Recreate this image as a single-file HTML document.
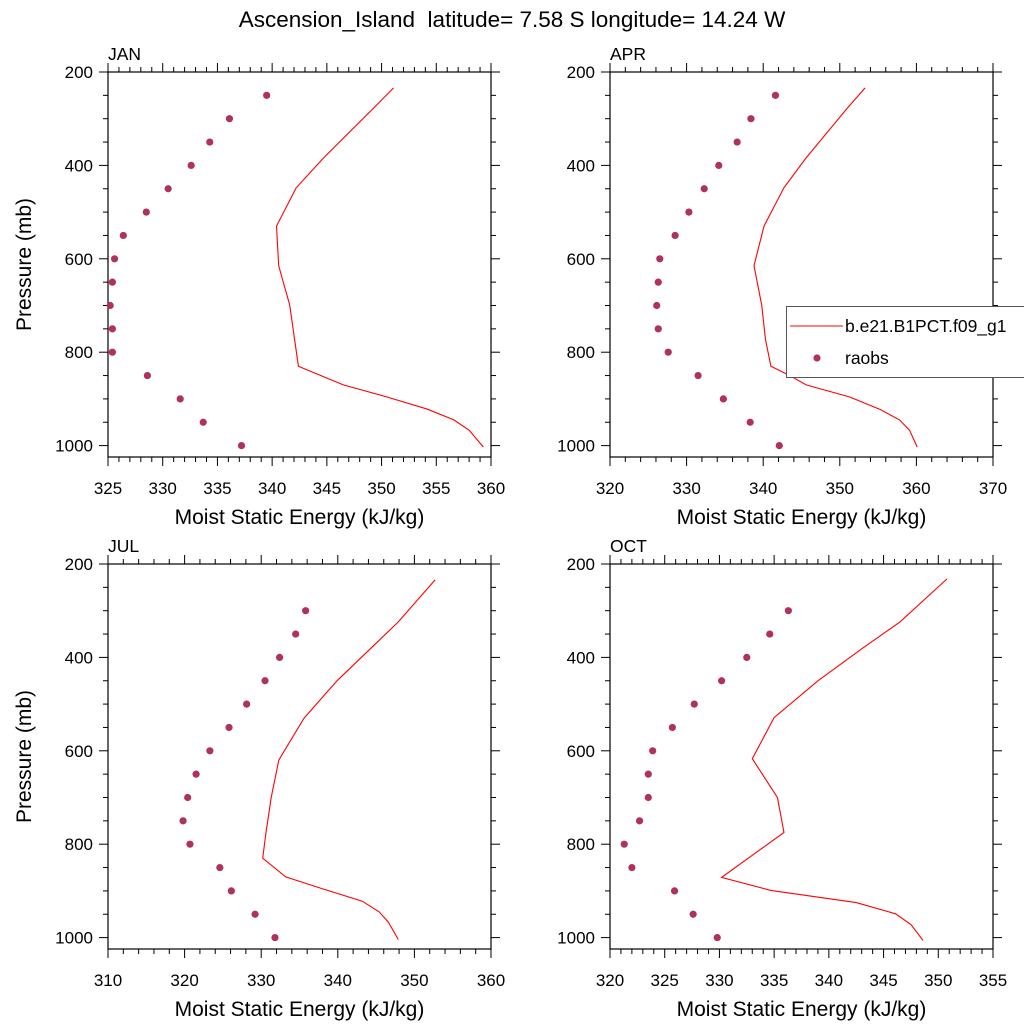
<!DOCTYPE html>
<html><head><meta charset="utf-8">
<style>
html,body{margin:0;padding:0;background:#fff;}
svg{display:block;font-family:"Liberation Sans",sans-serif;}
</style></head>
<body>
<svg id="chart" width="1024" height="1024" viewBox="0 0 1024 1024">
<text x="512" y="27" text-anchor="middle" font-size="22.5" style="white-space:pre">Ascension_Island  latitude= 7.58 S longitude= 14.24 W</text>
</svg>
<script>
const janObsX=[339.5,336.1,334.3,332.6,330.5,328.5,326.4,325.6,325.4,325.2,325.4,325.4,328.6,331.6,333.7,337.2];
const aprObsX=[341.6,338.4,336.6,334.2,332.3,330.3,328.5,326.5,326.3,326.1,326.3,327.6,331.5,334.8,338.3,342.1];
const janObsP=[250,300,350,400,450,500,550,600,650,700,750,800,850,900,950,1000];
const julObsX=[335.8,334.5,332.4,330.5,328.1,325.8,323.3,321.5,320.4,319.8,320.7,324.6,326.1,329.2,331.8];
const octObsX=[336.3,334.6,332.5,330.2,327.7,325.7,323.9,323.5,323.5,322.7,321.3,322.0,325.9,327.6,329.8];
const lowObsP=[300,350,400,450,500,550,600,650,700,750,800,850,900,950,1000];
const janModP=[234,279,384,448,530,615,699,830,870,896,922,945,967,1003];
const janModX=[351.1,349.2,344.7,342.2,340.4,340.6,341.6,342.4,346.5,350.5,354.2,356.6,358.0,359.3];
const aprModP=[234,279,384,448,530,615,699,773,830,850,870,896,922,945,967,1003];
const aprModX=[353.3,350.9,345.6,342.7,340.1,338.8,339.8,340.3,341.0,343.5,345.6,351.3,355.2,357.8,359.1,360.1];
const julModP=[234,324,450,530,620,700,778,830,870,896,922,945,967,1004];
const julModX=[352.7,347.9,339.9,335.6,332.3,331.3,330.6,330.2,333.2,338.1,343.2,345.4,346.6,347.9];
const octModP=[232,324,380,450,529,617,700,775,871,899,925,949,972,1006];
const octModX=[350.8,346.5,343.1,339.0,335.0,333.0,335.3,335.9,330.2,334.7,342.5,346.1,347.5,348.6];
const pTicks=[200,400,600,800,1000];

const NS="http://www.w3.org/2000/svg";
const svg=document.getElementById('chart');
function mk(tag,attrs,parent){const e=document.createElementNS(NS,tag);for(const k in attrs)e.setAttribute(k,attrs[k]);(parent||svg).appendChild(e);return e;}

const panels=[
 {name:'jan',title:'JAN',L:108,T:72,xmin:325,xmax:360,xstep:5,minor:1,ox:janObsX,op:janObsP,mx:janModX,mp:janModP},
 {name:'apr',title:'APR',L:610,T:72,xmin:320,xmax:370,xstep:10,minor:2,ox:aprObsX,op:janObsP,mx:aprModX,mp:aprModP},
 {name:'jul',title:'JUL',L:108,T:564,xmin:310,xmax:360,xstep:10,minor:2,ox:julObsX,op:lowObsP,mx:julModX,mp:julModP},
 {name:'oct',title:'OCT',L:610,T:564,xmin:320,xmax:355,xstep:5,minor:1,ox:octObsX,op:lowObsP,mx:octModX,mp:octModP}
];
const W=383,H=385;
panels.forEach(pn=>{
 const g=mk('g',{});
 
 
 const xs=v=>pn.L+(v-pn.xmin)/(pn.xmax-pn.xmin)*W;
 const ys=p=>pn.T+(p-200)*0.467;
 const B=pn.T+H,R=pn.L+W;
 for(let v=pn.xmin;v<=pn.xmax+1e-6;v+=pn.minor){
  const major=Math.abs(((v-pn.xmin)/pn.xstep)-Math.round((v-pn.xmin)/pn.xstep))<1e-6;
  const len=major?9:5,x=xs(v);
  mk('line',{x1:x,x2:x,y1:B,y2:B+len,stroke:'#000','stroke-width':1},g);
  mk('line',{x1:x,x2:x,y1:pn.T,y2:pn.T-len,stroke:'#000','stroke-width':1},g);
  if(major){const t=mk('text',{x:x,y:B+37,'text-anchor':'middle','font-size':17},g);t.textContent=String(Math.round(v));
   }
 }
 for(let p=200;p<=1025;p+=50){
  const major=p%200===0,len=major?9:5,y=ys(p);
  mk('line',{x1:pn.L,x2:pn.L-len,y1:y,y2:y,stroke:'#000','stroke-width':1},g);
  mk('line',{x1:R,x2:R+len,y1:y,y2:y,stroke:'#000','stroke-width':1},g);
 }
 pTicks.forEach(p=>{const t=mk('text',{x:pn.L-15,y:ys(p)+6,'text-anchor':'end','font-size':17},g);t.textContent=String(p);
  });
 const fr=mk('rect',{x:pn.L,y:pn.T,width:W,height:H,fill:'none',stroke:'#000','stroke-width':1.2},g);
 
 const tt=mk('text',{x:pn.L,y:pn.T-12,'font-size':17.5},g);tt.textContent=pn.title;
 
 const xt=mk('text',{x:pn.L+W/2,y:B+67,'text-anchor':'middle','font-size':21},g);xt.textContent='Moist Static Energy (kJ/kg)';
 
 if(pn.L<300){const yt=mk('text',{x:0,y:0,'text-anchor':'middle','font-size':21,transform:`translate(31,${pn.T+H/2}) rotate(-90)`},g);yt.textContent='Pressure (mb)';
  }
 const pts=pn.mx.map((v,i)=>xs(v).toFixed(1)+','+ys(pn.mp[i]).toFixed(1)).join(' ');
 const pl=mk('polyline',{points:pts,fill:'none',stroke:'#ff0000','stroke-width':1.1},g);
 
 pn.ox.forEach((v,i)=>{const c=mk('circle',{cx:xs(v),cy:ys(pn.op[i]),r:3.6,fill:'#b03060'},g);
  });
});
const lg=mk('g',{});


mk('rect',{x:786.5,y:306.5,width:260,height:71,fill:'#fff',stroke:'#555','stroke-width':1},lg);
mk('line',{x1:790,x2:843,y1:326,y2:326,stroke:'#ff0000','stroke-width':1.1},lg);
const l1=mk('text',{x:845,y:332,'font-size':17.5},lg);l1.textContent='b.e21.B1PCT.f09_g1';

mk('circle',{cx:817,cy:358,r:3.6,fill:'#b03060'},lg);
const l2=mk('text',{x:845,y:364,'font-size':17.5},lg);l2.textContent='raobs';

</script>
</body></html>
